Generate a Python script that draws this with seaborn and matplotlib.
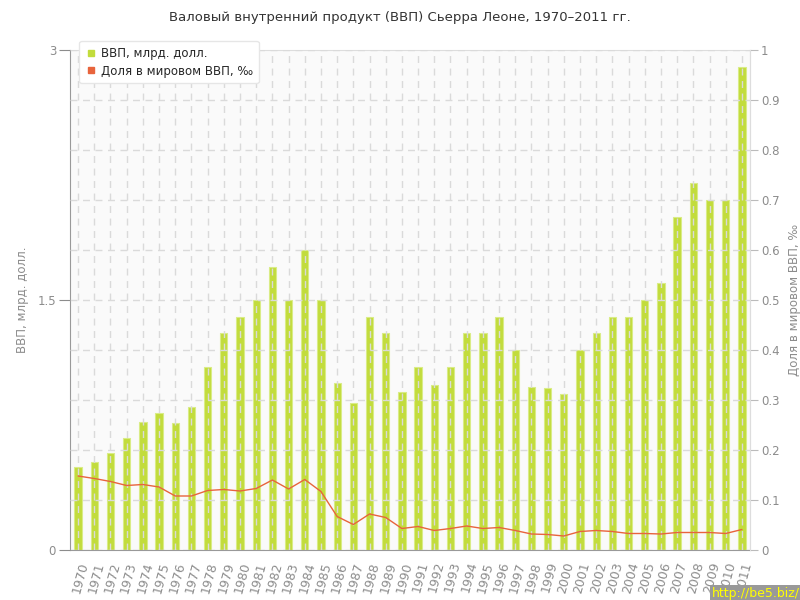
import matplotlib
matplotlib.use("Agg")
import matplotlib.pyplot as plt
from matplotlib.lines import Line2D
import numpy as np
import pandas as pd
import seaborn as sns

# данные
years = [str(y) for y in range(1970, 2012)]
gdp = [0.50, 0.53, 0.58, 0.67, 0.77, 0.82, 0.76, 0.86, 1.10, 1.30,
       1.40, 1.50, 1.70, 1.50, 1.80, 1.50, 1.00, 0.88, 1.40, 1.30,
       0.95, 1.10, 0.99, 1.10, 1.30, 1.30, 1.40, 1.20, 0.98, 0.97,
       0.935, 1.20, 1.30, 1.40, 1.40, 1.50, 1.60, 2.00, 2.20, 2.10,
       2.10, 2.90]
share = [0.148, 0.143, 0.137, 0.129, 0.131, 0.126, 0.108, 0.108, 0.119, 0.121,
         0.118, 0.123, 0.140, 0.122, 0.141, 0.117, 0.067, 0.051, 0.072, 0.065,
         0.043, 0.047, 0.039, 0.043, 0.048, 0.043, 0.045, 0.039, 0.032, 0.031,
         0.028, 0.037, 0.039, 0.037, 0.033, 0.033, 0.032, 0.035, 0.035, 0.035,
         0.033, 0.041]

title = "Валовый внутренний продукт (ВВП) Сьерра Леоне, 1970–2011 гг."
left_label = "ВВП, млрд. долл."
right_label = "Доля в мировом ВВП, ‰"

df = pd.DataFrame({"year": years, "gdp": gdp, "share": share})

sns.set_style("white")
plt.rcParams['font.family'] = ['DejaVu Sans']

bar_color = "#c2dc3c"
line_color = "#e8643c"
grey = "#8c8c8c"
grid_color = "#dadada"

fig = plt.figure(figsize=(8, 6), dpi=100)
ax = fig.add_axes([70 / 800, 50 / 600, 680 / 800, 500 / 600])
ax.set_facecolor("#fafafa")

sns.barplot(data=df, x="year", y="gdp", color=bar_color, width=0.45,
            saturation=1, edgecolor="#d9ec86", linewidth=0.8, ax=ax)
ax.set_xlim(-0.5, len(years) - 0.5)
ax.set_ylim(0, 3)
ax.set_yticks([0, 1.5, 3])
ax.set_yticklabels(["0", "1.5", "3"])
ax.set_yticks(np.arange(0, 3.01, 0.3), minor=True)
ax.set_axisbelow(False)
ax.xaxis.grid(True, which="major", color=grid_color, linestyle=(0, (5, 4)), linewidth=1)
ax.yaxis.grid(True, which="both", color=grid_color, linestyle=(0, (5, 4)), linewidth=1)
ax.tick_params(axis="y", which="minor", length=0)
ax.tick_params(axis="y", which="major", length=8, color=grey, labelcolor=grey, labelsize=8.5, pad=2)
ax.tick_params(axis="x", length=4, color=grey, labelcolor=grey, labelsize=9)
plt.setp(ax.get_xticklabels(), rotation=75, ha="right", rotation_mode="anchor")
ax.set_xlabel("")
ax.set_ylabel(left_label, color=grey, fontsize=8.5, labelpad=6)
for s in ["left", "bottom"]:
    ax.spines[s].set_color("#999999")
for s in ["top", "right"]:
    ax.spines[s].set_color("#dddddd")

ax2 = ax.twinx()
sns.lineplot(data=df, x="year", y="share", color=line_color, linewidth=1, ax=ax2)
ax2.set_ylim(0, 1)
ax2.set_yticks(np.arange(0, 1.01, 0.1))
ax2.set_yticklabels(["0"] + [f"{v:.1f}" for v in np.arange(0.1, 0.95, 0.1)] + ["1"])
ax2.tick_params(axis="y", length=6, color="#bbbbbb", labelcolor=grey, labelsize=8.5, pad=2)
ax2.set_ylabel(right_label, color=grey, fontsize=8.5, labelpad=6)
ax2.grid(False)
for s in ax2.spines.values():
    s.set_visible(False)
ax2.spines["right"].set_visible(True)
ax2.spines["right"].set_color("#dddddd")

handles = [Line2D([], [], marker="s", linestyle="", color=bar_color, markersize=5),
           Line2D([], [], marker="s", linestyle="", color=line_color, markersize=5)]
leg = ax2.legend(handles, [left_label, right_label], loc="upper left",
                 bbox_to_anchor=(0.005, 1.03), fontsize=8.5, frameon=True,
                 fancybox=True, shadow=False, handletextpad=0.3, borderpad=0.5,
                 labelspacing=0.4, handlelength=1.0)
leg.get_frame().set_facecolor("white")
leg.get_frame().set_edgecolor("#e6e6e6")
leg.get_frame().set_alpha(1)

fig.text(0.5, 1 - 18 / 600, title, ha="center", va="center", fontsize=9.5, color="#333333")
fig.text(1.0, 0.0, "http://be5.biz/", ha="right", va="bottom", fontsize=9,
         color="#ffff00", bbox=dict(facecolor="#999999", edgecolor="none", pad=1.5))

fig.savefig("out.png", dpi=100)
